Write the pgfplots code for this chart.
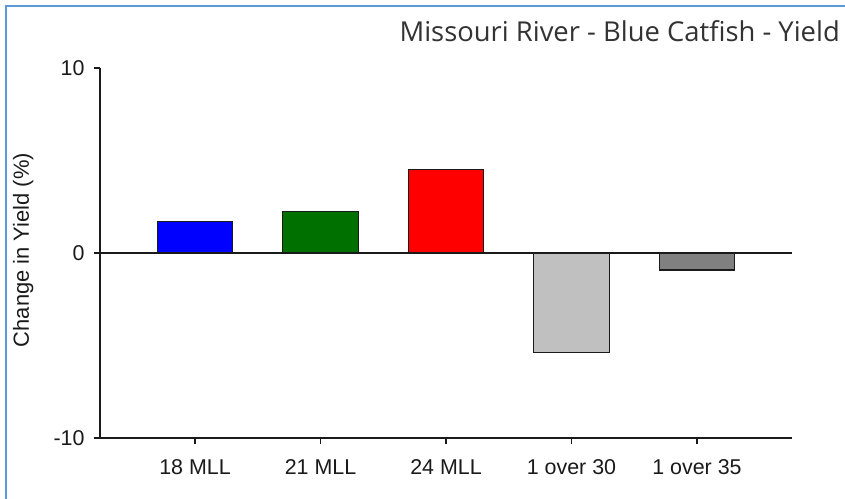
\documentclass[border=0pt]{standalone}
\usepackage{fontspec}
\setmainfont{Liberation Sans}
\newfontfamily\titlefont{Open Sans}
\usepackage{pgfplots}
\pgfplotsset{compat=1.18}
\definecolor{frameblue}{HTML}{5B9BD5}
\definecolor{bargreen}{HTML}{007000}
\definecolor{lightgr}{HTML}{C0C0C0}
\definecolor{darkgr}{HTML}{808080}
\definecolor{titlegray}{HTML}{333333}
\definecolor{axisk}{HTML}{1A1A1A}
\begin{document}
\begin{tikzpicture}
\useasboundingbox (0,0) rectangle (845bp,499bp);
\fill[white] (0,0) rectangle (845bp,499bp);
\draw[frameblue, line width=2bp] (6bp,0) -- (6bp,493bp) -- (845bp,493bp);
\begin{axis}[
  at={(100bp,61bp)}, anchor=south west,
  scale only axis, width=692bp, height=370bp,
  xmin=-0.757, xmax=4.757, ymin=-10, ymax=10,
  axis x line*=bottom, axis y line*=left,
  xtick pos=bottom, ytick pos=left,
  axis line style={axisk, line width=1.5bp},
  xtick={0,1,2,3,4},
  xticklabels={18 MLL,21 MLL,24 MLL,1 over 30,1 over 35},
  ytick={-10,0,10},
  tick align=outside, major tick length=6bp,
  tick style={axisk, line width=1.3bp},
  /pgf/number format/assume math mode=true,
  ticklabel style={font=\fontsize{21.5}{25}\selectfont, text=axisk},
  xticklabel style={yshift=-12bp},
  yticklabel style={xshift=-6bp},
  ylabel={Change in Yield (\%)},
  ylabel style={at={(axis description cs:-0.111,0.508)}, anchor=center, font=\fontsize{22}{26}\selectfont, text=axisk},
]
\addplot[ybar, bar shift=0pt, bar width=0.6, fill=blue, draw=axisk, line width=1.2bp] coordinates {(0,1.69)};
\addplot[ybar, bar shift=0pt, bar width=0.6, fill=bargreen, draw=axisk, line width=1.2bp] coordinates {(1,2.25)};
\addplot[ybar, bar shift=0pt, bar width=0.6, fill=red, draw=axisk, line width=1.2bp] coordinates {(2,4.50)};
\addplot[ybar, bar shift=0pt, bar width=0.6, fill=lightgr, draw=axisk, line width=1.2bp] coordinates {(3,-5.37)};
\addplot[ybar, bar shift=0pt, bar width=0.6, fill=darkgr, draw=axisk, line width=1.2bp] coordinates {(4,-0.92)};
\addplot[axisk, line width=1.3bp, mark=none] coordinates {(-0.757,0) (4.757,0)};
\end{axis}
\node[anchor=base east, inner sep=0, text=titlegray, font=\titlefont\fontsize{27.5}{32}\selectfont] at (840bp,457.5bp) {Missouri River - Blue Catfish - Yield};
\end{tikzpicture}
\end{document}
